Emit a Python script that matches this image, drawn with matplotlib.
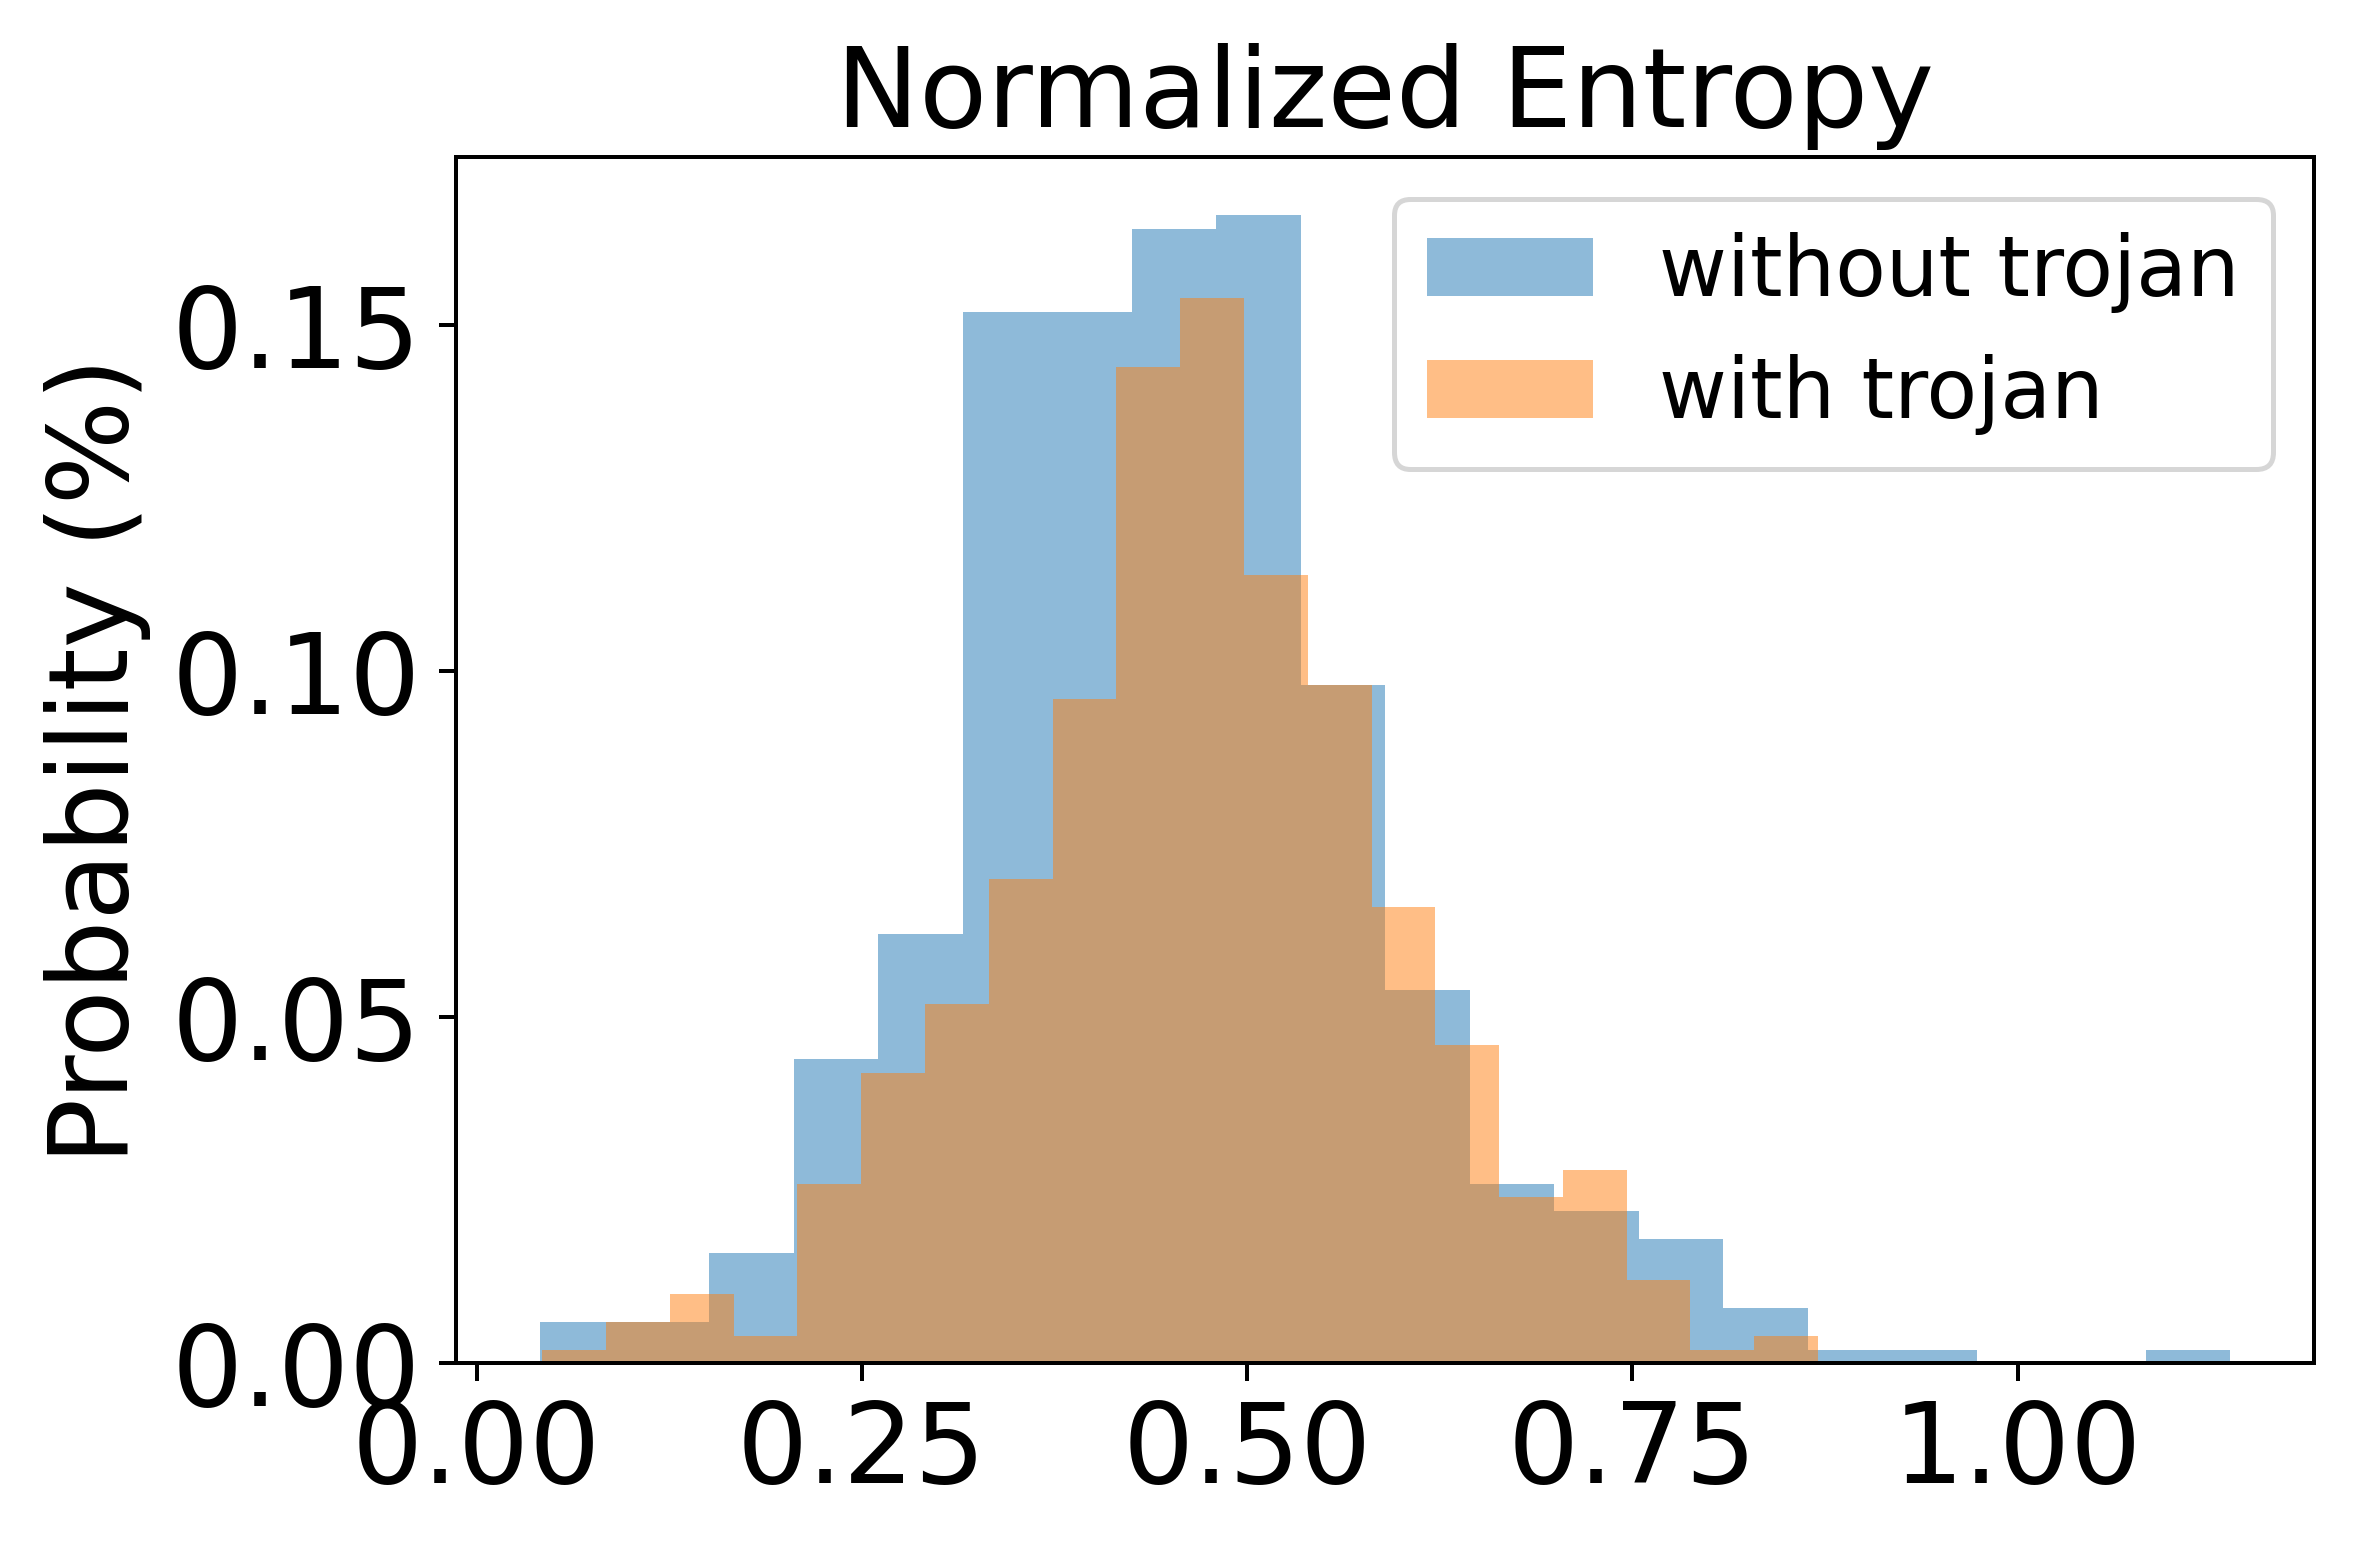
# Imports
import matplotlib
matplotlib.use("Agg")
import matplotlib.pyplot as plt
import numpy as np

# Histogram probabilities per bin (20 bins each, 500 samples per group)
without_probs = [0.006, 0.006, 0.016, 0.044, 0.062, 0.152, 0.152, 0.164, 0.166, 0.098,
                 0.054, 0.026, 0.022, 0.018, 0.008, 0.002, 0.002, 0.000, 0.000, 0.002]
with_probs = [0.002, 0.006, 0.010, 0.004, 0.026, 0.042, 0.052, 0.070, 0.096, 0.144,
              0.154, 0.114, 0.098, 0.066, 0.046, 0.024, 0.028, 0.012, 0.002, 0.004]

# Range of the normalized entropy values for each group
without_range = (0.0413, 1.1378)
with_range = (0.0426, 0.8705)

# Labels
labels = ["without trojan", "with trojan"]
title = "Normalized Entropy"
ylabel = "Probability (%)"


# Draw one histogram from its bin probabilities
def draw_hist(ax, probs, value_range, label):
    edges = np.linspace(value_range[0], value_range[1], len(probs) + 1)
    centers = (edges[:-1] + edges[1:]) / 2
    ax.hist(centers, bins=edges, weights=probs, alpha=0.5, label=label)


def main():
    # Create a figure
    dpi = 360
    fig = plt.figure(figsize=(2355 / dpi, 1551 / dpi), dpi=dpi)
    ax = fig.add_axes([0.1935, 0.1209, 0.7893, 0.7777])

    # Plot the histograms
    draw_hist(ax, without_probs, without_range, labels[0])
    draw_hist(ax, with_probs, with_range, labels[1])

    # Set the labels and title
    ax.set_ylabel(ylabel, fontsize=22)
    ax.set_title(title, fontsize=22.25)
    ax.tick_params(axis="both", labelsize=22.4)

    # Set the legend
    ax.legend(loc="upper right", fontsize=16.6)

    # Save the plot
    fig.savefig("out.png", dpi=dpi)


# Run the main function
if __name__ == "__main__":
    main()
